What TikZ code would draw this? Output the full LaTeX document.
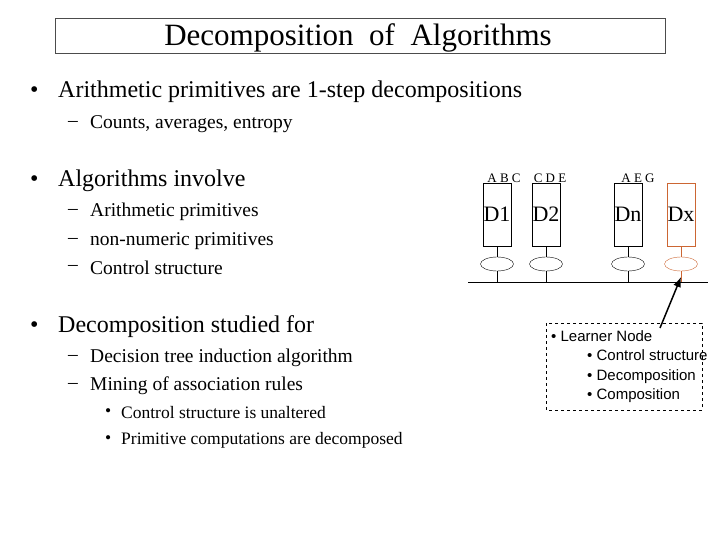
\documentclass[tikz,border=0pt]{standalone}
\usepackage{fontspec}
\setmainfont{Liberation Serif}
\newfontfamily\arialfont{Liberation Sans}
\usetikzlibrary{arrows.meta}
\usetikzlibrary{shapes.geometric}
\tikzset{
  lvlone/.style={anchor=west, inner sep=0pt, font=\fontsize{24}{27}\selectfont},
  lvltwo/.style={anchor=west, inner sep=0pt, font=\fontsize{19.5}{22}\selectfont},
  lvlthree/.style={anchor=west, inner sep=0pt, font=\fontsize{17.5}{20}\selectfont},
  sitebox/.style={draw, minimum width=28pt, minimum height=63pt, inner sep=0pt, font=\fontsize{22}{24}\selectfont},
  siteport/.style={draw, ellipse, minimum width=33pt, minimum height=14pt, inner sep=0pt},
  attrs/.style={inner sep=0pt, font=\fontsize{13}{15}\selectfont}
}
\begin{document}
\begin{tikzpicture}[x=1pt,y=-1pt]
    \useasboundingbox (0,0) rectangle (720,540);

    % title
        \draw[draw=black!70] (55,18) rectangle (665,53);
        \node[inner sep=0pt, font=\fontsize{31}{34}\selectfont] (title) at (358,38) {Decomposition\ \ of\ \ Algorithms};

    % left text
        \node[lvlone] at (30,92)  {•};
        \node[lvlone] (arith) at (58,92) {Arithmetic primitives are 1-step decompositions};
        \node[lvltwo] at (68,124) {–};
        \node[lvltwo] (counts) at (90,124) {Counts, averages, entropy};

        \node[lvlone] at (30,181) {•};
        \node[lvlone] (involve) at (58,181) {Algorithms involve};
        \node[lvltwo] at (68,212) {–};
        \node[lvltwo] (prim) at (90,212) {Arithmetic primitives};
        \node[lvltwo] at (68,241) {–};
        \node[lvltwo] (nonnum) at (90,241) {non-numeric primitives};
        \node[lvltwo] at (68,268) {–};
        \node[lvltwo] (control) at (90,268) {Control structure};

        \node[lvlone] at (30,327) {•};
        \node[lvlone] (studied) at (58,327) {Decomposition studied for};
        \node[lvltwo] at (68,358) {–};
        \node[lvltwo] (tree) at (90,358) {Decision tree induction algorithm};
        \node[lvltwo] at (68,386) {–};
        \node[lvltwo] (assoc) at (90,386) {Mining of association rules};
        \node[lvlthree] at (105,413) {•};
        \node[lvlthree] (unalt) at (121,413) {Control structure is unaltered};
        \node[lvlthree] at (105,440) {•};
        \node[lvlthree] (decomp) at (121,440) {Primitive computations are decomposed};

    % sites
        \coordinate (busl) at (468,282);
        \coordinate (busr) at (708,282);
        \draw (busl) -- (busr);

        \node[sitebox] (d1) at (497,214.5) {D1};
        \node[sitebox] (d2) at (546,214.5) {D2};
        \node[sitebox] (dn) at (628,214.5) {Dn};
        \node[sitebox, draw=brown!80!red] (dx) at (681,214.5) {Dx};

        \node[attrs] at (504,178) {A B C};
        \node[attrs] at (550,178) {C D E};
        \node[attrs] at (638,178) {A E G};

        \foreach \s in {d1,d2,dn} {
            \node[siteport] (\s p) at (\s.south |- 0,264) {};
            \draw (\s.south) -- (\s p.north);
            \draw (\s p.south) -- (\s p.south |- busl);
        }
        \node[siteport, draw=brown!80!red] (dxp) at (dx.south |- 0,264) {};
        \draw[brown!80!red] (dx.south) -- (dxp.north);
        \draw[brown!80!red] (dxp.south) -- (dxp.south |- busl);
        \coordinate (dxbus) at (dxp.south |- busl);

    % learner node
        \draw[dashed] (546,323) rectangle (702,410);
        \node[anchor=north west, align=left, inner sep=0pt, font=\arialfont\fontsize{15}{19.5}\selectfont] (learner) at (551,330)
            {• Learner Node\\ \hspace{36pt}• Control structure\\ \hspace{36pt}• Decomposition\\ \hspace{36pt}• Composition};
        \coordinate (arrowfoot) at (660,328);
        \draw[line width=1.5pt, -{Latex[length=10pt,width=8pt]}] (arrowfoot) -- ([yshift=5pt]dxbus);
\end{tikzpicture}
\end{document}
